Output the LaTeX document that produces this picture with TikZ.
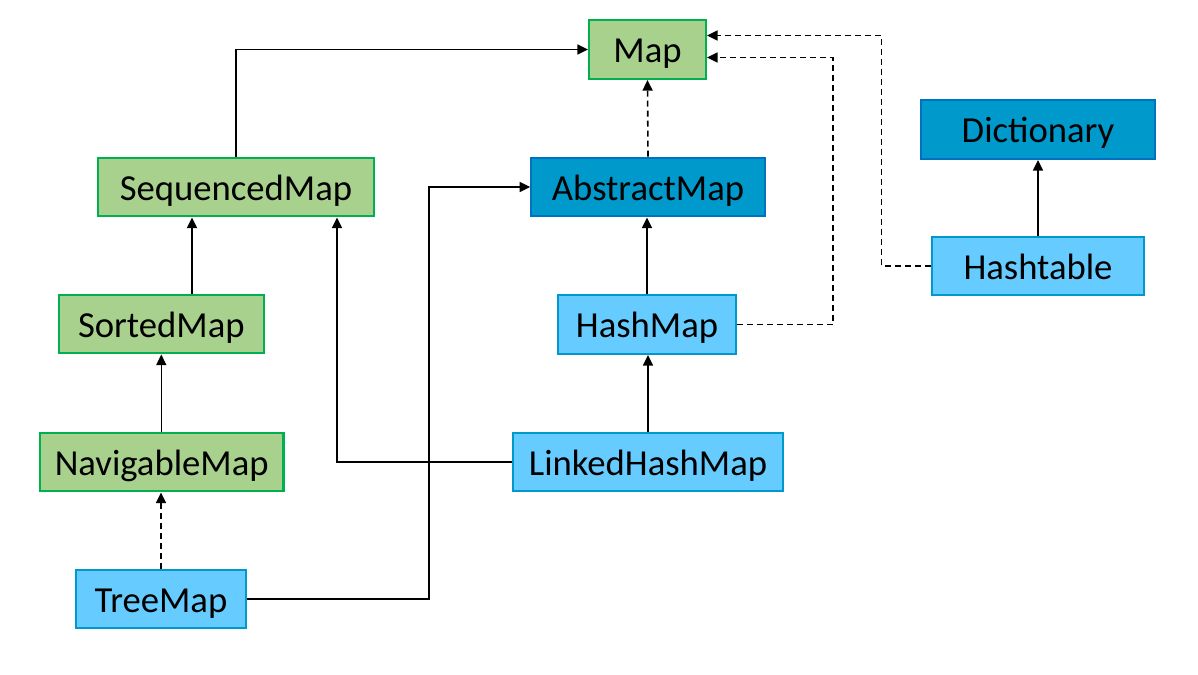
\documentclass[tikz,border=0pt]{standalone}
\usepackage{fontspec}
\setmainfont{Carlito}
\usetikzlibrary{arrows.meta}
\definecolor{gfill}{HTML}{A9D18E}
\definecolor{gdraw}{HTML}{00B050}
\definecolor{dfill}{HTML}{0099CC}
\definecolor{ddraw}{HTML}{0070C0}
\definecolor{lfill}{HTML}{66CCFF}
\definecolor{ldraw}{HTML}{0099CC}
\begin{document}
\begin{tikzpicture}[x=0.75pt,y=-0.75pt,
  box/.style={rectangle, inner sep=0pt, minimum height=44pt, line width=1.7pt,
    text height=19.5pt, text depth=0pt,
    font=\fontsize{27.5}{32}\selectfont, text=black},
  gbox/.style={box, fill=gfill, draw=gdraw},
  dbox/.style={box, fill=dfill, draw=ddraw},
  lbox/.style={box, fill=lfill, draw=ldraw},
  arr/.style={line width=1.2pt, -{Triangle[length=8pt,width=7.5pt]}},
  darr/.style={arr, dash pattern=on 4.5pt off 3pt}]
\useasboundingbox (0,0) rectangle (1198,674);
\node[gbox, minimum width=87.5pt] (map) at (647.5,49.5) {Map};
\node[dbox, minimum width=175.5pt] (dict) at (1038,129.5) {Dictionary};
\node[gbox, minimum width=207pt] (seq) at (236,187) {SequencedMap};
\node[dbox, minimum width=175pt] (abs) at (648,187) {AbstractMap};
\node[lbox, minimum width=159.5pt] (ht) at (1038,266) {Hashtable};
\node[gbox, minimum width=154pt] (sorted) at (161.3,324) {SortedMap};
\node[lbox, minimum width=133pt] (hm) at (647,324.5) {HashMap};
\node[gbox, minimum width=182.5pt] (nav) at (161.7,462) {NavigableMap};
\node[lbox, minimum width=202.5pt] (lhm) at (648,462) {LinkedHashMap};
\node[lbox, minimum width=127pt] (tree) at (161,599) {TreeMap};
\coordinate (c1) at (881.5,35.5);
\coordinate (c2) at (833,57.5);
\coordinate (c3) at (192,0);
\coordinate (c4) at (429,0);
\coordinate (c5) at (337,0);
\draw[arr] (seq.north) |- (map.west);
\draw[darr] (abs.north) -- (map.south);
\draw[darr] (ht.west) -| (c1) -- (c1 -| map.east);
\draw[darr] (hm.east) -| (c2) -- (c2 -| map.east);
\draw[arr] (ht.north) -- (dict.south);
\draw[arr] (sorted.north -| c3) -- (seq.south -| c3);
\draw[arr] (nav.north -| sorted.south) -- (sorted.south);
\draw[darr] (tree.north) -- (tree.north |- nav.south);
\draw[arr] (tree.east) -| (c4 |- abs.west) -- (abs.west);
\draw[arr] (lhm.west) -| (seq.south -| c5);
\draw[arr] (lhm.north) -- (lhm.north |- hm.south);
\draw[arr] (hm.north) -- (hm.north |- abs.south);
\end{tikzpicture}
\end{document}
